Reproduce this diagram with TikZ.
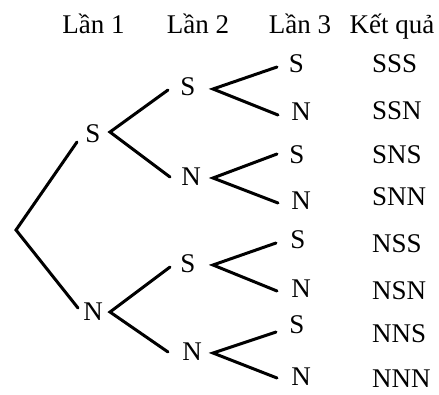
\documentclass[tikz,border=0pt]{standalone}
\usepackage{fontspec}
\setmainfont{Liberation Serif}
\begin{document}
\begin{tikzpicture}[x=1pt,y=-1pt,
  lbl/.style={inner sep=0pt, font=\fontsize{27}{31}\selectfont},
  res/.style={lbl, anchor=west},
  br/.style={line width=3pt, line cap=round, line join=miter}]
\useasboundingbox (0,0) rectangle (439,394);
% headers
\node[lbl, anchor=base] (h1) at (93.5,33) {Lần 1};
\node[lbl, anchor=base] (h2) at (198,33) {Lần 2};
\node[lbl, anchor=base] (h3) at (300,33) {Lần 3};
\node[lbl, anchor=base] (h4) at (392,33) {Kết quả};
% level 1
\node[lbl] (a) at (93,134) {S};
\node[lbl] (b) at (93,312) {N};
% level 2
\node[lbl] (aa) at (188,87) {S};
\node[lbl] (ab) at (191,177) {N};
\node[lbl] (ba) at (188,264) {S};
\node[lbl] (bb) at (192,352) {N};
% level 3
\node[lbl] (aaa) at (296.5,64) {S};
\node[lbl] (aab) at (301,112) {N};
\node[lbl] (aba) at (297,155) {S};
\node[lbl] (abb) at (301,201) {N};
\node[lbl] (baa) at (298,240) {S};
\node[lbl] (bab) at (301,289) {N};
\node[lbl] (bba) at (297,325) {S};
\node[lbl] (bbb) at (301,377) {N};
% results
\node[res] (r1) at (372,64) {SSS};
\node[res] (r2) at (372,111) {SSN};
\node[res] (r3) at (372,155) {SNS};
\node[res] (r4) at (372,197) {SNN};
\node[res] (r5) at (372,244) {NSS};
\node[res] (r6) at (372,291) {NSN};
\node[res] (r7) at (372,334) {NNS};
\node[res] (r8) at (372,379) {NNN};
% branch points
\coordinate (o) at (16,230);
\coordinate (a-in) at (77,142);
\coordinate (b-in) at (78,308);
\coordinate (a-v) at (110,132);
\coordinate (aa-in) at (168,90);
\coordinate (ab-in) at (170,177);
\coordinate (b-v) at (110,312);
\coordinate (ba-in) at (170,267);
\coordinate (bb-in) at (168,352);
\coordinate (aa-v) at (213,89);
\coordinate (aaa-in) at (277,67);
\coordinate (aab-in) at (278,115);
\coordinate (ab-v) at (213,178);
\coordinate (aba-in) at (277,154);
\coordinate (abb-in) at (278,203);
\coordinate (ba-v) at (213,265);
\coordinate (baa-in) at (276,243);
\coordinate (bab-in) at (277,291);
\coordinate (bb-v) at (213,353);
\coordinate (bba-in) at (276,332);
\coordinate (bbb-in) at (277,378);
% branches
\draw[br] (a-in) -- (o) -- (b-in);
\draw[br] (aa-in) -- (a-v) -- (ab-in);
\draw[br] (ba-in) -- (b-v) -- (bb-in);
\draw[br] (aaa-in) -- (aa-v) -- (aab-in);
\draw[br] (aba-in) -- (ab-v) -- (abb-in);
\draw[br] (baa-in) -- (ba-v) -- (bab-in);
\draw[br] (bba-in) -- (bb-v) -- (bbb-in);
\end{tikzpicture}
\end{document}
